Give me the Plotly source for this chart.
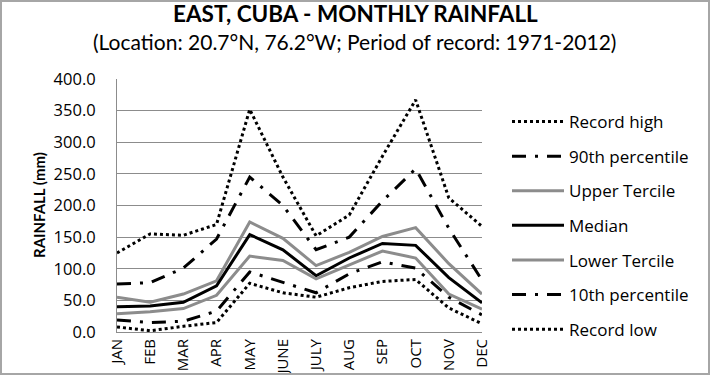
import plotly.graph_objects as go

months = ["JAN", "FEB", "MAR", "APR", "MAY", "JUNE", "JULY", "AUG", "SEP", "OCT", "NOV", "DEC"]
record_high = [125, 155, 153, 170, 352, 245, 152, 185, 278, 367, 212, 167]
p90 = [76, 78, 101, 147, 245, 200, 130, 150, 207, 258, 164, 82]
upper_tercile = [55, 47, 60, 81, 174, 148, 105, 126, 151, 165, 108, 60]
median = [40, 41, 47, 73, 154, 130, 89, 117, 140, 137, 86, 46]
lower_tercile = [29, 32, 37, 58, 120, 113, 84, 106, 128, 117, 60, 36]
p10 = [19, 15, 17, 33, 95, 78, 62, 92, 111, 101, 55, 27]
record_low = [8, 2, 9, 15, 77, 62, 55, 70, 80, 83, 38, 13]
y_ticks = [0, 50, 100, 150, 200, 250, 300, 350, 400]

series = [
    ("Record high", record_high, "black", "dot"),
    ("90th percentile", p90, "black", "14px,9px,3px,9px"),
    ("Upper Tercile", upper_tercile, "#8c8c8c", "solid"),
    ("Median", median, "black", "solid"),
    ("Lower Tercile", lower_tercile, "#8c8c8c", "solid"),
    ("10th percentile", p10, "black", "14px,9px,3px,9px"),
    ("Record low", record_low, "black", "dot"),
]

fig = go.Figure()
for i, (name, vals, color, dash) in enumerate(series):
    fig.add_trace(go.Scatter(
        x=months, y=vals, name=name, mode="lines",
        line=dict(color=color, width=3, dash=dash),
        legendgroup=f"g{i}",
    ))

W, H = 710, 375
L, R, T, B = 117, 228, 79, 43
pw, ph = W - L - R, H - T - B

fig.update_layout(
    width=W, height=H,
    margin=dict(l=L, r=R, t=T, b=B, autoexpand=False),
    paper_bgcolor="white", plot_bgcolor="white",
    font=dict(family="Open Sans, sans-serif", color="black"),
    showlegend=True,
    legend=dict(
        x=(507 - L) / pw, y=(H - B - 104) / ph, xanchor="left", yanchor="top",
        font=dict(size=17, color="black", family="Open Sans, sans-serif"),
        tracegroupgap=9.5, itemwidth=52, maxheight=360,
        bgcolor="rgba(0,0,0,0)",
    ),
    annotations=[
        dict(text="<b>EAST, CUBA - MONTHLY RAINFALL</b>", xref="paper", yref="paper",
             x=(355 - L) / pw, y=(H - B - 14) / ph, xanchor="center", yanchor="middle",
             showarrow=False, font=dict(size=22.5, color="black", family="Lato, sans-serif")),
        dict(text="(Location: 20.7°N, 76.2°W; Period of record: 1971-2012)", xref="paper", yref="paper",
             x=(354 - L) / pw, y=(H - B - 42) / ph, xanchor="center", yanchor="middle",
             showarrow=False, font=dict(size=21, color="black", family="Lato, sans-serif")),
        dict(text="<b>RAINFALL (mm)</b>", xref="paper", yref="paper",
             x=(39 - L) / pw, y=(H - B - 205) / ph, xanchor="center", yanchor="middle", textangle=-90,
             showarrow=False,
             font=dict(size=15, color="black", family="Lato, sans-serif")),
    ],
    shapes=[
        dict(type="rect", xref="paper", yref="paper",
             x0=(1 - L) / pw, x1=(W - 1 - L) / pw,
             y0=-(B - 1) / ph, y1=(H - 1 - B) / ph,
             line=dict(color="#a6a6a6", width=2)),
    ],
)

fig.update_xaxes(
    type="category", tickangle=-90, tickfont=dict(size=15, color="black"),
    showline=True, linecolor="#8c8c8c", linewidth=1, showgrid=False,
    ticks="", ticklen=0,
)
fig.update_yaxes(
    range=[0, 400], tickvals=y_ticks, ticktext=[f"{v:.1f}" for v in y_ticks],
    tickfont=dict(size=16.5, color="black"),
    showgrid=True, gridcolor="#8c8c8c", gridwidth=1,
    showline=True, linecolor="#8c8c8c", linewidth=1, zeroline=False,
    ticks="", ticklabelstandoff=17,
)

fig.write_html("out.html", config={"displayModeBar": False},
               post_script="document.body.style.margin='0px';")
